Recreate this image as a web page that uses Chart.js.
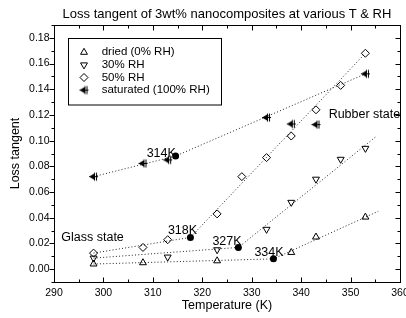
<!DOCTYPE html>
<html>
<head>
<meta charset="utf-8">
<script src="https://cdn.jsdelivr.net/npm/chart.js@4.4.1/dist/chart.umd.min.js"></script>
<style>
  html, body { margin: 0; padding: 0; background: #fff; }
  #wrap { width: 406px; height: 318px; }
</style>
</head>
<body>
<div id="wrap"><canvas id="chart" width="406" height="318"></canvas></div>
<script>
// measured points (temperature K, loss tangent)
const driedT = [298, 308, 323, 338, 343, 353];
const driedTan = [0.004, 0.005, 0.0065, 0.013, 0.025, 0.0405];
const rh30T = [298, 313, 323, 333, 338, 343, 348, 353];
const rh30Tan = [0.0086, 0.0094, 0.0151, 0.031, 0.052, 0.070, 0.0855, 0.094];
const rh50T = [298, 308, 313, 323, 328, 333, 338, 343, 348, 353];
const rh50Tan = [0.0125, 0.0169, 0.0229, 0.043, 0.072, 0.0868, 0.1036, 0.124, 0.143, 0.168];
const satT = [298, 308, 313, 333, 338, 343, 353];
const satTan = [0.072, 0.0823, 0.085, 0.118, 0.113, 0.1125, 0.152];

// glass -> rubber transition points
const transT = [314.6, 317.6, 327.3, 334.4];
const transTan = [0.088, 0.0247, 0.0169, 0.008];
const transLabels = ['314K', '318K', '327K', '334K'];
const transLabelT = [311.7, 316.0, 325.0, 333.5];
const transLabelTan = [0.0901, 0.0299, 0.0211, 0.0133];

// dotted fit lines (start, transition, end)
const driedFitT = [298, 334.4, 355.6];
const driedFitTan = [0.004, 0.008, 0.045];
const rh30FitT = [298, 327.3, 355.1];
const rh30FitTan = [0.0086, 0.0169, 0.103];
const rh50FitT = [298, 317.6, 353];
const rh50FitTan = [0.0125, 0.0247, 0.168];
const satFitT = [298, 314.6, 353];
const satFitTan = [0.072, 0.088, 0.152];

const seriesNames = ['dried (0% RH)', '30% RH', '50% RH', 'saturated (100% RH)'];
const xTicks = [290, 300, 310, 320, 330, 340, 350, 360];
const yTicks = [0.00, 0.02, 0.04, 0.06, 0.08, 0.10, 0.12, 0.14, 0.16, 0.18];

const FONT = "'Liberation Sans', Arial, sans-serif";

function pts(xs, ys) { return xs.map((v, i) => ({x: v, y: ys[i]})); }

// left-pointing filled triangle with bars, used for the saturated series
const satMarker = document.createElement('canvas');
satMarker.width = 11; satMarker.height = 11;
(function() {
  const c = satMarker.getContext('2d');
  c.fillStyle = '#000'; c.strokeStyle = '#000'; c.lineWidth = 1;
  c.beginPath(); c.moveTo(1, 5.5); c.lineTo(6, 2.5); c.lineTo(6, 8.5); c.closePath(); c.fill();
  c.beginPath();
  c.moveTo(6.5, 1.5); c.lineTo(6.5, 9.5);
  c.moveTo(8.5, 1.5); c.lineTo(8.5, 9.5);
  c.moveTo(1, 5.5); c.lineTo(10, 5.5);
  c.stroke();
})();

function markerSet(label, data, style, rotation) {
  return {
    label: label, data: data, showLine: false,
    pointStyle: style, rotation: rotation || 0,
    pointRadius: 4, pointBorderWidth: 1,
    pointBorderColor: '#000', pointBackgroundColor: 'rgba(0,0,0,0)'
  };
}
function fitSet(data) {
  return {
    data: data, showLine: true, pointRadius: 0,
    borderColor: '#222', borderWidth: 1, borderDash: [1, 2.2], fill: false
  };
}

const datasets = [
  markerSet(seriesNames[0], pts(driedT, driedTan), 'triangle'),
  markerSet(seriesNames[1], pts(rh30T, rh30Tan), 'triangle', 180),
  markerSet(seriesNames[2], pts(rh50T, rh50Tan), 'rectRot'),
  markerSet(seriesNames[3], pts(satT, satTan), satMarker),
  { data: pts(transT, transTan), showLine: false, pointStyle: 'circle', pointRadius: 3.5,
    pointBorderWidth: 0, pointBackgroundColor: '#000' },
  fitSet(pts(driedFitT, driedFitTan)),
  fitSet(pts(rh30FitT, rh30FitTan)),
  fitSet(pts(rh50FitT, rh50FitTan)),
  fitSet(pts(satFitT, satFitTan))
];

const decor = {
  id: 'decor',
  afterDraw(chart) {
    const ctx = chart.ctx, a = chart.chartArea;
    const x = chart.scales.x, y = chart.scales.y;
    ctx.save();
    ctx.strokeStyle = '#000';
    ctx.lineWidth = 1;
    const L = a.left + 0.5, R = a.right + 0.5, T = a.top + 0.5, B = a.bottom + 0.5;
    ctx.strokeRect(L, T, R - L, B - T);

    ctx.beginPath();
    for (let t = 290; t <= 360; t += 5) {
      const px = Math.round(x.getPixelForValue(t)) + 0.5;
      const len = t % 10 === 0 ? 5 : 3;
      ctx.moveTo(px, B); ctx.lineTo(px, B - len);
      ctx.moveTo(px, T); ctx.lineTo(px, T + len);
    }
    for (let k = -1; k <= 19; k++) {
      const py = Math.round(y.getPixelForValue(k / 100)) + 0.5;
      const len = k % 2 === 0 ? 5 : 3;
      ctx.moveTo(L, py); ctx.lineTo(L - len, py);
      ctx.moveTo(R, py); ctx.lineTo(R - len, py);
    }
    ctx.stroke();

    ctx.fillStyle = '#000';
    ctx.font = '10.5px ' + FONT;
    ctx.textAlign = 'center'; ctx.textBaseline = 'middle';
    xTicks.forEach(t => ctx.fillText(String(t), x.getPixelForValue(t), 293));
    ctx.textAlign = 'right';
    yTicks.forEach(v => ctx.fillText(v.toFixed(2), 49.5, y.getPixelForValue(v)));

    ctx.font = '12.5px ' + FONT;
    ctx.textAlign = 'center';
    ctx.fillText('Temperature (K)', (a.left + a.right) / 2, 306);
    ctx.save();
    ctx.translate(15.5, (a.top + a.bottom) / 2);
    ctx.rotate(-Math.PI / 2);
    ctx.fillText('Loss tangent', 0, 0);
    ctx.restore();

    // annotations
    transLabels.forEach((s, i) => {
      ctx.fillText(s, x.getPixelForValue(transLabelT[i]), y.getPixelForValue(transLabelTan[i]));
    });
    ctx.fillText('Glass state', x.getPixelForValue(297.8), y.getPixelForValue(0.0247));
    ctx.fillText('Rubber state', x.getPixelForValue(352.8), y.getPixelForValue(0.1205));

    // legend box
    ctx.strokeRect(68.5, 38.5, 153, 66.5);
    ctx.font = '11.5px ' + FONT;
    ctx.textAlign = 'left';
    for (let i = 0; i < 4; i++) {
      const ds = chart.data.datasets[i];
      const ly = 52.3 + i * 12.6;
      ctx.strokeStyle = '#000'; ctx.fillStyle = 'rgba(0,0,0,0)'; ctx.lineWidth = 1;
      Chart.helpers.drawPoint(ctx, {pointStyle: ds.pointStyle, rotation: ds.rotation, radius: 4, borderWidth: 1}, 84, ly);
      ctx.fillStyle = '#000';
      ctx.fillText(ds.label, 101.7, ly);
    }
    ctx.restore();
  }
};

new Chart(document.getElementById('chart'), {
  type: 'scatter',
  data: { datasets: datasets },
  options: {
    responsive: false,
    animation: false,
    events: [],
    layout: { padding: { left: 54, right: 6, top: 0, bottom: 36 } },
    scales: {
      x: { type: 'linear', min: 290, max: 360, display: false },
      y: { type: 'linear', min: -0.01, max: 0.19, display: false }
    },
    plugins: {
      legend: { display: false },
      tooltip: { enabled: false },
      title: {
        display: true,
        text: 'Loss tangent of 3wt% nanocomposites at various T & RH',
        color: '#000',
        font: { family: FONT, size: 13, weight: 'normal', lineHeight: 1.2 },
        padding: { top: 6.6, bottom: 2.8 }
      }
    }
  },
  plugins: [decor]
});
</script>
</body>
</html>
